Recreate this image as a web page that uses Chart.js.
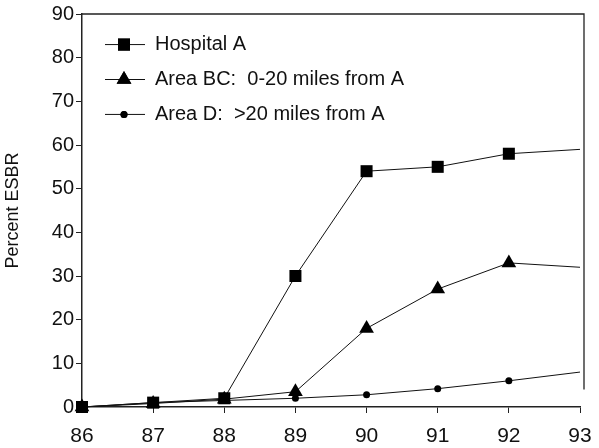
<!DOCTYPE html>
<html>
<head>
<meta charset="utf-8">
<script src="https://cdn.jsdelivr.net/npm/chart.js@4/dist/chart.umd.min.js"></script>
<style>
html,body{margin:0;padding:0;background:#fff;}
#wrap{width:599px;height:448px;position:relative;}
</style>
</head>
<body>
<div id="wrap"><canvas id="c" width="599" height="448"></canvas></div>
<script>
const years = [86, 87, 88, 89, 90, 91, 92, 93];
const hospitalA = [0, 1, 2, 30, 54, 55, 58, 59];
const areaBC = [0, 0.8, 1.8, 3.5, 18, 27, 33, 32];
const areaD = [0, 1, 1.5, 2, 2.8, 4.2, 6, 8];
const seriesLabels = ['Hospital A', 'Area BC:  0-20 miles from A', 'Area D:  >20 miles from A'];
const yTicks = [0, 10, 20, 30, 40, 50, 60, 70, 80, 90];
const yAxisTitle = 'Percent ESBR';

const FONT = "'Liberation Sans', Arial, Helvetica, sans-serif";
const lastIdx = years.length - 1;
const pts = arr => years.map((x, i) => ({x: x, y: arr[i]}));

function ds(label, arr, style, r) {
  return {
    label: label,
    data: pts(arr),
    borderColor: '#111',
    backgroundColor: '#000',
    borderWidth: 1,
    pointStyle: style,
    pointRadius: ctx => ctx.dataIndex === lastIdx ? 0 : r,
    pointBorderWidth: 0,
    pointBackgroundColor: '#000',
    tension: 0,
    fill: false,
    clip: false
  };
}

const framePlugin = {
  id: 'frame',
  afterDraw(chart) {
    const {ctx, chartArea: a, scales} = chart;
    ctx.save();
    ctx.strokeStyle = '#222';
    ctx.lineWidth = 1.3;
    ctx.beginPath();
    ctx.moveTo(a.left, a.top);
    ctx.lineTo(a.right + 4, a.top);
    ctx.lineTo(a.right + 4, scales.y.getPixelForValue(4));
    ctx.stroke();
    // legend
    const rowY = [scales.y.getPixelForValue(83), scales.y.getPixelForValue(75), scales.y.getPixelForValue(67)];
    const x0 = a.left + 23, x1 = a.left + 63, xm = a.left + 42, tx = a.left + 73;
    chart.data.datasets.forEach((d, i) => {
      const y = rowY[i];
      ctx.strokeStyle = '#111';
      ctx.lineWidth = 1;
      ctx.beginPath(); ctx.moveTo(x0, y); ctx.lineTo(x1, y); ctx.stroke();
      const r = [8.5, 8.5, 3.5][i];
      Chart.helpers.drawPoint(ctx, {pointStyle: d.pointStyle, radius: r, rotation: 0, borderWidth: 0}, xm, y);
      ctx.fillStyle = '#000';
      ctx.fill();
      ctx.fillStyle = '#111';
      ctx.font = '20px ' + FONT;
      ctx.textBaseline = 'middle';
      ctx.textAlign = 'left';
      ctx.fillText(seriesLabels[i], tx, y);
    });
    ctx.restore();
  }
};

new Chart(document.getElementById('c'), {
  type: 'line',
  data: {
    datasets: [
      ds(seriesLabels[0], hospitalA, 'rect', 8.5),
      ds(seriesLabels[1], areaBC, 'triangle', 8.5),
      ds(seriesLabels[2], areaD, 'circle', 3.5)
    ]
  },
  options: {
    responsive: false,
    animation: false,
    devicePixelRatio: 1,
    layout: {padding: {top: 14, right: 19, left: 0, bottom: 0}},
    plugins: {legend: {display: false}, tooltip: {enabled: false}},
    scales: {
      x: {
        type: 'linear', min: 86, max: 93,
        afterBuildTicks: s => { s.ticks = years.map(v => ({value: v})); },
        afterFit: s => { s.height = 41; s.paddingRight = 12; s.paddingLeft = 0; },
        grid: {display: true, drawOnChartArea: false, drawTicks: true, tickLength: 6, color: '#222'},
        border: {display: true, color: '#222', width: 1.5},
        ticks: {color: '#111', font: {family: FONT, size: 21}, padding: 11, maxRotation: 0}
      },
      y: {
        min: 0, max: 90,
        afterBuildTicks: s => { s.ticks = yTicks.map(v => ({value: v})); },
        afterFit: s => { s.width = 82; },
        grid: {display: true, drawOnChartArea: false, drawTicks: true, tickLength: 6, color: '#222'},
        border: {display: true, color: '#222', width: 1.5},
        ticks: {color: '#111', font: {family: FONT, size: 20}, padding: 2},
        title: {display: true, text: yAxisTitle, color: '#111', font: {family: FONT, size: 18}, padding: {top: 2, bottom: 4}}
      }
    }
  },
  plugins: [framePlugin]
});
</script>
</body>
</html>
